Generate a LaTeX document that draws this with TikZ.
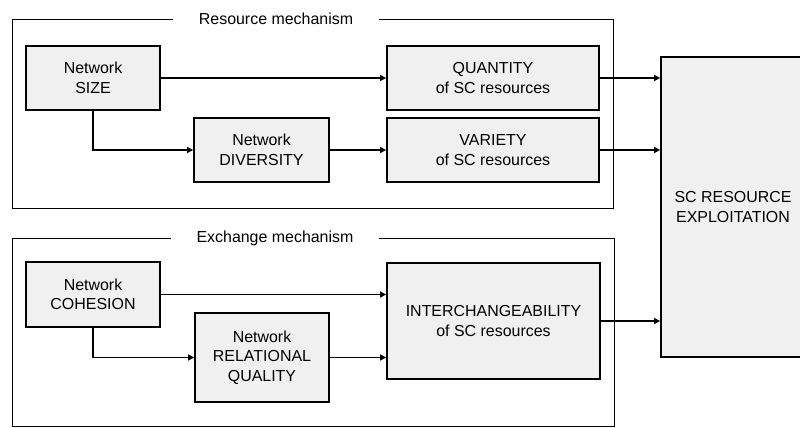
\documentclass[tikz,border=0pt]{standalone}
\usepackage{fontspec}
\setmainfont{Liberation Sans}
\usetikzlibrary{arrows.meta}
\definecolor{boxgray}{HTML}{F0F0F0}
\begin{document}
\begin{tikzpicture}[x=1bp,y=-1bp,
  box/.style={draw, line width=1.8bp, fill=boxgray, align=center,
    font=\fontsize{16}{19.5}\selectfont, inner sep=0pt},
  grp/.style={draw, line width=0.9bp},
  arr/.style={line width=1.8bp, -{Triangle[length=6bp,width=6bp]}},
  ttl/.style={fill=white, font=\fontsize{16}{19}\selectfont, inner xsep=26bp, inner ysep=2bp}]
\useasboundingbox[clip] (0,0) rectangle (800,427);
% groups
\draw[grp] (12,19) rectangle (613,208);
\node[ttl] (t1) at (276,19) {Resource mechanism};
\draw[grp] (12,238) rectangle (614,426);
\node[ttl] (t2) at (275,238) {Exchange mechanism};
% nodes
\node[box, minimum width=134bp, minimum height=64bp] (size) at (93,78) {Network\\SIZE};
\node[box, minimum width=212bp, minimum height=64bp] (quantity) at (493,78) {QUANTITY\\of SC resources};
\node[box, minimum width=135bp, minimum height=64bp] (diversity) at (261.5,150) {Network\\DIVERSITY};
\node[box, minimum width=212bp, minimum height=64bp] (variety) at (493,150) {VARIETY\\of SC resources};
\node[box, minimum width=144bp, minimum height=300bp] (scre) at (733,207) {SC RESOURCE\\EXPLOITATION};
\node[box, minimum width=134bp, minimum height=65bp] (cohesion) at (93,294.5) {Network\\COHESION};
\node[box, minimum width=134bp, minimum height=89bp] (rq) at (262,357.5) {Network\\RELATIONAL\\QUALITY};
\node[box, minimum width=213bp, minimum height=116bp] (interch) at (493.5,321) {INTERCHANGEABILITY\\of SC resources};
% connectors
\draw[arr] (size) -- (quantity);
\draw[arr] (size.south) |- (diversity.west);
\draw[arr] (diversity) -- (variety);
\draw[arr] (quantity.east) -- (quantity.east -| scre.west);
\draw[arr] (variety.east) -- (variety.east -| scre.west);
\draw[arr] (cohesion.east) -- (cohesion.east -| interch.west);
\draw[arr] (cohesion.south) |- (rq.west);
\draw[arr] (rq.east) -- (rq.east -| interch.west);
\draw[arr] (interch.east) -- (interch.east -| scre.west);
\end{tikzpicture}
\end{document}
